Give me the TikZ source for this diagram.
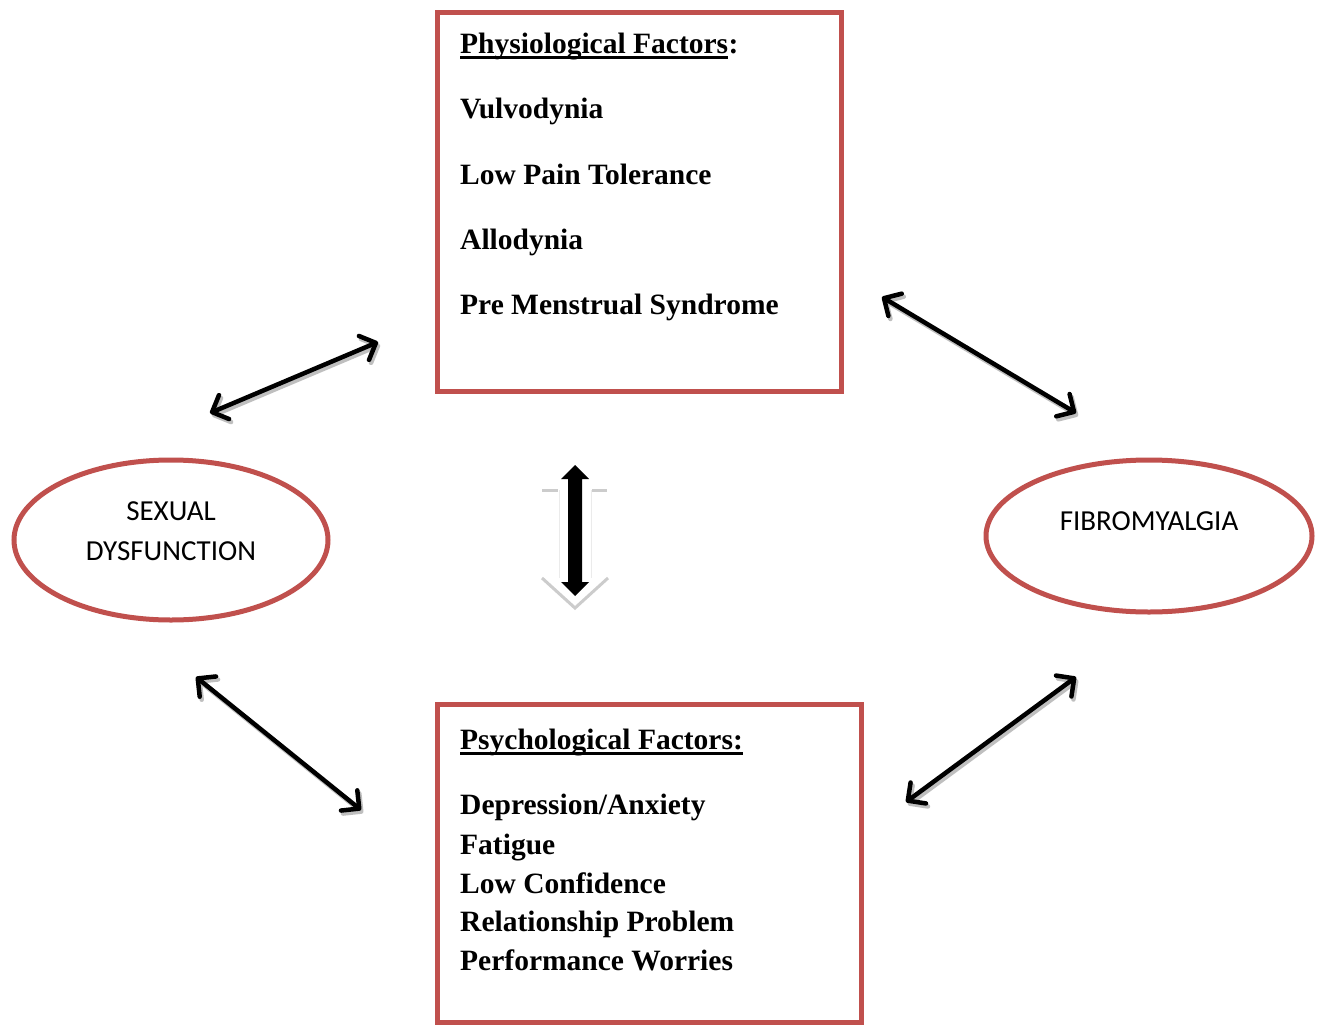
\documentclass[tikz,border=0pt]{standalone}
\usepackage{fontspec}
\setmainfont{Liberation Serif}
\newfontfamily\calib{Carlito}
\usetikzlibrary{arrows.meta}
\definecolor{boxred}{RGB}{192,80,77}
\begin{document}
\begin{tikzpicture}[x=1pt,y=-1pt,
  redbox/.style={draw=boxred, line width=5pt, inner sep=0pt, outer sep=0pt, anchor=north west},
  item/.style={anchor=base west, inner sep=0pt, font=\fontsize{29.5}{35}\selectfont\bfseries},
  elltext/.style={align=center, inner sep=0pt, font=\fontsize{29}{40}\selectfont\calib},
  uline/.style={line width=2.5pt},
  biarrow/.style={line width=4.5pt, line cap=round,
    {Straight Barb[length=13pt,width=26pt,round]}-{Straight Barb[length=13pt,width=26pt,round]}},
  shadowarrow/.style={biarrow, draw=black!25, transform canvas={shift={(2,3)}}}
]
\useasboundingbox (0,0) rectangle (1319,1025);
\fill[white] (0,0) rectangle (1319,1025);

% boxes
\node[redbox, minimum width=404pt, minimum height=378pt] (phys) at (437.5,13) {};
\node[redbox, minimum width=423.5pt, minimum height=318pt] (psych) at (437.5,704) {};

% top box text
\node[item] (p0) at (460,53) {Physiological Factors};
\node[item, anchor=base west] (p0c) at (p0.base east) {:};
\draw[uline] ([yshift=-4.5pt]p0.base west) -- ([yshift=-4.5pt]p0.base east);
\node[item] (p1) at (460,118) {Vulvodynia};
\node[item] (p2) at (460,184) {Low Pain Tolerance};
\node[item] (p3) at (460,249) {Allodynia};
\node[item] (p4) at (460,314) {Pre Menstrual Syndrome};

% bottom box text
\node[item] (q0) at (460,749) {Psychological Factors:};
\draw[uline] ([yshift=-4.5pt]q0.base west) -- ([yshift=-4.5pt]q0.base east);
\node[item] (q1) at (460,814) {Depression/Anxiety};
\node[item] (q2) at (460,854) {Fatigue};
\node[item] (q3) at (460,893) {Low Confidence};
\node[item] (q4) at (460,931) {Relationship Problem};
\node[item] (q5) at (460,970) {Performance Worries};

% ellipses
\draw[draw=boxred, line width=5pt] (171,540) ellipse [x radius=157, y radius=80];
\draw[draw=boxred, line width=5pt] (1149,536) ellipse [x radius=163, y radius=76];
\node[elltext] (sd) at (171,531) {SEXUAL\\DYSFUNCTION};
\node[elltext] (fm) at (1149,521) {FIBROMYALGIA};

% arrow end points
\coordinate (a1s) at (210,413); \coordinate (a1e) at (378,342);
\coordinate (a2s) at (882,297); \coordinate (a2e) at (1076,413);
\coordinate (a3s) at (196,677); \coordinate (a3e) at (361,810);
\coordinate (a4s) at (906,802); \coordinate (a4e) at (1076,677);

\foreach \s/\e in {a1s/a1e,a2s/a2e,a3s/a3e,a4s/a4e}{
  \draw[shadowarrow] (\s) -- (\e);
  \draw[biarrow] (\s) -- (\e);
}

% central arrow: faint shadow outline
\draw[black!20, line width=3pt] (542,490) -- (558,490) (592,490) -- (607,490);
\draw[black!8, line width=1pt] (559,490) -- (559,578) (591,490) -- (591,578);
\draw[black!20, line width=3pt, line join=miter] (542,578) -- (575,608) -- (608,578);
% central black double arrow
\fill[black] (575,465) -- (589,479) -- (582,479) -- (582,582) -- (589,582)
  -- (575,596) -- (561,582) -- (568,582) -- (568,479) -- (561,479) -- cycle;
\end{tikzpicture}
\end{document}
